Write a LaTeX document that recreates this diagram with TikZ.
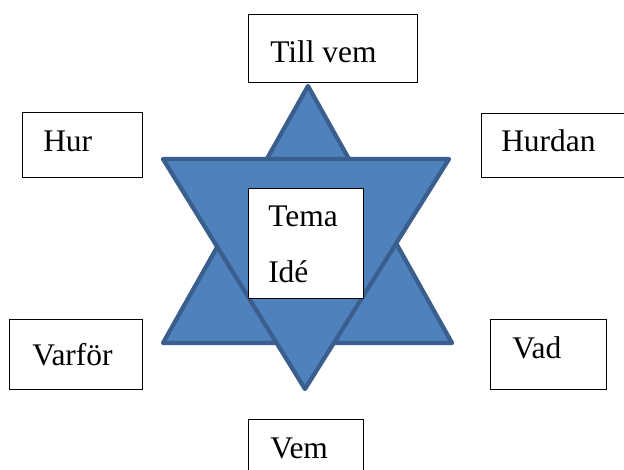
\documentclass[tikz,border=0pt]{standalone}
\usepackage{fontspec}
\setmainfont{Liberation Serif}
\definecolor{starfill}{HTML}{4F81BD}
\definecolor{starline}{HTML}{3A5F8E}
\tikzset{
  box/.style={draw=black, line width=0.8pt, fill=white, rectangle, anchor=north west, inner sep=0pt},
  word/.style={anchor=base west, inner sep=0pt, font=\fontsize{23.6}{28}\selectfont},
  tri/.style={fill=starfill, draw=starline, line width=3.2pt, line join=round}
}
\begin{document}
\begin{tikzpicture}[x=0.75pt, y=-0.75pt]
  \useasboundingbox (0,0) rectangle (624,470);
  \clip (0,0) rectangle (624,470);
  % star
  \draw[tri] (308,86) -- (163,343) -- (452,343) -- cycle;
  \draw[tri] (163,159) -- (449,159) -- (305,389) -- cycle;
  % boxes
  \node[box, minimum width=126.75pt, minimum height=51pt]   (tillvem) at (248,14)  {};
  \node[box, minimum width=90pt,     minimum height=48.75pt] (hur)     at (22,112)  {};
  \node[box, minimum width=126.75pt, minimum height=48pt]   (hurdan)  at (481,113) {};
  \node[box, minimum width=99.75pt,  minimum height=52.5pt] (varfor)  at (9,319)   {};
  \node[box, minimum width=87pt,     minimum height=52.5pt] (vad)     at (490,319) {};
  \node[box, minimum width=86.25pt,  minimum height=52.5pt] (vem)     at (248,419) {};
  \node[box, minimum width=86.25pt,  minimum height=82.5pt] (tema)    at (248,188) {};
  % texts
  \node[word] (tillvem-t) at (270,63)  {Till vem};
  \node[word] (hur-t)     at (43,152)  {Hur};
  \node[word] (hurdan-t)  at (501,152) {Hurdan};
  \node[word] (varfor-t)  at (32,365)  {Varför};
  \node[word] (vad-t)     at (512,358) {Vad};
  \node[word] (vem-t)     at (270,458) {Vem};
  \node[word] (tema-t)    at (268,227) {Tema};
  \node[word] (ide-t)     at (268,282) {Idé};
\end{tikzpicture}
\end{document}
